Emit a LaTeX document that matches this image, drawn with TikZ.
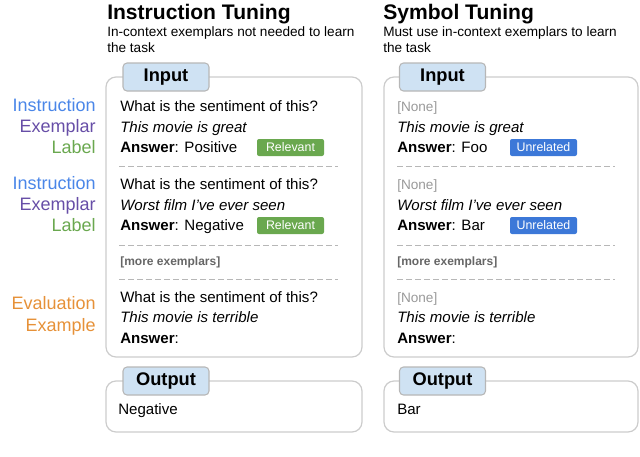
\documentclass[tikz,border=0pt]{standalone}
\usepackage{fontspec}
\setmainfont{Liberation Sans}
\usetikzlibrary{positioning}
\definecolor{instrblue}{HTML}{4A86E8}
\definecolor{exmpurple}{HTML}{674EA7}
\definecolor{labgreen}{HTML}{6AA84F}
\definecolor{evalorange}{HTML}{E69138}
\definecolor{relgreen}{HTML}{6AA84F}
\definecolor{unrblue}{HTML}{3C78D8}
\definecolor{tabblue}{HTML}{CFE2F3}
\definecolor{tabline}{HTML}{B7B7B7}
\definecolor{boxgray}{HTML}{CCCCCC}
\definecolor{nonegray}{HTML}{999999}
\definecolor{moregray}{HTML}{666666}

\begin{document}
\begin{tikzpicture}[x=0.75pt,y=-0.75pt]

	\tikzstyle{panel}=[draw=boxgray,line width=0.9pt,rounded corners=7.5pt]
	\tikzstyle{tab}=[draw=tabline,fill=tabblue,line width=0.8pt,rounded corners=3pt,minimum width=64.5pt,minimum height=21pt,inner sep=0pt,font=\bfseries\fontsize{13.7}{16}\selectfont]
	\tikzstyle{title}=[anchor=base west,inner sep=0pt,font=\bfseries\fontsize{15.8}{18}\selectfont]
	\tikzstyle{sub}=[anchor=base west,inner sep=0pt,font=\fontsize{10.2}{12}\selectfont]
	\tikzstyle{body}=[anchor=base west,inner sep=0pt,font=\fontsize{11.3}{14}\selectfont]
	\tikzstyle{none}=[anchor=base west,inner sep=0pt,text=nonegray,font=\fontsize{10.2}{12}\selectfont]
	\tikzstyle{more}=[anchor=base west,inner sep=0pt,text=moregray,font=\bfseries\fontsize{9}{11}\selectfont]
	\tikzstyle{side}=[anchor=base east,inner sep=0pt,font=\fontsize{13.5}{16}\selectfont]
	\tikzstyle{badge}=[rounded corners=1.5pt,text=white,minimum width=50.25pt,minimum height=12.75pt,inner sep=0pt,font=\fontsize{9.3}{11}\selectfont]
	\tikzstyle{sep}=[draw=tabline,line width=0.7pt,dash pattern=on 4.5pt off 2.25pt]

	\useasboundingbox (0,0) rectangle (640,457);

	% headings
	\node[title] (ttl1) at (107,19) {Instruction Tuning};
	\node[sub] (sub1a) at (107,36) {In-context exemplars not needed to learn};
	\node[sub] (sub1b) at (107,52) {the task};
	\node[title] (ttl2) at (383,19) {Symbol Tuning};
	\node[sub] (sub2a) at (383,36) {Must use in-context exemplars to learn};
	\node[sub] (sub2b) at (383,52) {the task};

	% boxes
	\draw[panel] (106,77) rectangle (362,357);
	\draw[panel] (384,77) rectangle (638,357);
	\draw[panel] (106,381) rectangle (362,432);
	\draw[panel] (384,381) rectangle (638,432);

	\node[tab] (in1) at (166,77) {Input};
	\node[tab] (in2) at (442.5,77) {Input};
	\node[tab] (out1) at (166,381) {Output};
	\node[tab] (out2) at (442.5,381) {Output};

	% side labels
	\node[side,text=instrblue] (ins1) at (96,111) {Instruction};
	\node[side,text=exmpurple] (exm1) at (96,132) {Exemplar};
	\node[side,text=labgreen] (lab1) at (96,153) {Label};
	\node[side,text=instrblue] (ins2) at (96,189) {Instruction};
	\node[side,text=exmpurple] (exm2) at (96,210) {Exemplar};
	\node[side,text=labgreen] (lab2) at (96,231) {Label};
	\node[side,text=evalorange] (eva) at (96,309) {Evaluation};
	\node[side,text=evalorange] (exa) at (96,331) {Example};

	% instruction tuning
	\node[body] (q1) at (120,111) {What is the sentiment of this?};
	\node[body] (x1) at (120,132) {\itshape This movie is great};
	\node[body] (a1) at (120,152) {\textbf{Answer}: Positive};
	\node[badge,fill=relgreen] (r1) at (290.5,147.5) {Relevant};
	\node[body] (q2) at (120,189) {What is the sentiment of this?};
	\node[body] (x2) at (120,210) {\itshape Worst film I’ve ever seen};
	\node[body] (a2) at (120,230) {\textbf{Answer}: Negative};
	\node[badge,fill=relgreen] (r2) at (290.5,225.5) {Relevant};
	\node[more] (m1) at (120,265) {[more exemplars]};
	\node[body] (q3) at (120,302) {What is the sentiment of this?};
	\node[body] (x3) at (120,322) {\itshape This movie is terrible};
	\node[body] (a3) at (120,343) {\textbf{Answer}:};
	\draw[sep] (119,166) -- (338,166);
	\draw[sep] (119,245) -- (338,245);
	\draw[sep] (119,279) -- (338,279);

	% symbol tuning
	\node[none] (n1) at (397,111) {[None]};
	\node[body] (y1) at (397,132) {\itshape This movie is great};
	\node[body] (b1) at (397,152) {\textbf{Answer}: Foo};
	\node[badge,fill=unrblue] (u1) at (543.5,147.5) {Unrelated};
	\node[none] (n2) at (397,189) {[None]};
	\node[body] (y2) at (397,210) {\itshape Worst film I’ve ever seen};
	\node[body] (b2) at (397,230) {\textbf{Answer}: Bar};
	\node[badge,fill=unrblue] (u2) at (543.5,225.5) {Unrelated};
	\node[more] (m2) at (397,265) {[more exemplars]};
	\node[none] (n3) at (397,302) {[None]};
	\node[body] (y3) at (397,322) {\itshape This movie is terrible};
	\node[body] (b3) at (397,343) {\textbf{Answer}:};
	\draw[sep] (397,166) -- (615,166);
	\draw[sep] (397,245) -- (615,245);
	\draw[sep] (397,279) -- (615,279);

	% outputs
	\node[body] (o1) at (118,414) {Negative};
	\node[body] (o2) at (397,414) {Bar};

\end{tikzpicture}
\end{document}
